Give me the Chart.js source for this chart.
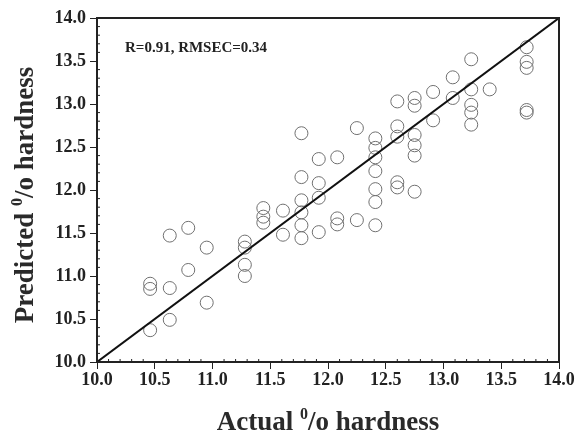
<!DOCTYPE html>
<html>
<head>
<meta charset="utf-8">
<script src="https://cdn.jsdelivr.net/npm/chart.js@4"></script>
<style>
  html, body { margin: 0; padding: 0; background: #fff; }
  #wrap { width: 578px; height: 435px; }
</style>
</head>
<body>
<div id="wrap"><canvas id="c" width="578" height="435"></canvas></div>
<script>
// Actual vs. predicted hardness (calibration set)
const actual = [
  10.46, 10.46, 10.46,
  10.63, 10.63, 10.63,
  10.79, 10.79,
  10.95, 10.95,
  11.28, 11.28, 11.28, 11.28,
  11.44, 11.44, 11.44,
  11.61, 11.61,
  11.77, 11.77, 11.77, 11.77, 11.77, 11.77,
  11.92, 11.92, 11.92, 11.92,
  12.08, 12.08, 12.08,
  12.25, 12.25,
  12.41, 12.41, 12.41, 12.41, 12.41, 12.41, 12.41,
  12.60, 12.60, 12.60, 12.60, 12.60,
  12.75, 12.75, 12.75, 12.75, 12.75, 12.75,
  12.91, 12.91,
  13.08, 13.08,
  13.24, 13.24, 13.24, 13.24, 13.24,
  13.40,
  13.72, 13.72, 13.72, 13.72, 13.72
];
const predicted = [
  10.91, 10.85, 10.37,
  11.47, 10.86, 10.49,
  11.56, 11.07,
  11.33, 10.69,
  11.40, 11.33, 11.13, 11.00,
  11.79, 11.69, 11.62,
  11.76, 11.48,
  12.66, 12.15, 11.88, 11.74, 11.59, 11.44,
  12.36, 12.08, 11.91, 11.51,
  12.38, 11.67, 11.60,
  12.72, 11.65,
  12.60, 12.49, 12.38, 12.22, 12.01, 11.86, 11.59,
  13.03, 12.74, 12.62, 12.09, 12.03,
  13.07, 12.98, 12.64, 12.52, 12.40, 11.98,
  13.14, 12.81,
  13.31, 13.07,
  13.52, 13.17, 12.99, 12.90, 12.76,
  13.17,
  13.66, 13.49, 13.42, 12.93, 12.90
];
// y = x reference line
const idealLine = [10.0, 14.0];
const xTicks = [10.0, 10.5, 11.0, 11.5, 12.0, 12.5, 13.0, 13.5, 14.0];
const yTicks = [10.0, 10.5, 11.0, 11.5, 12.0, 12.5, 13.0, 13.5, 14.0];
const statsLabel = 'R=0.91, RMSEC=0.34';
const xTitleParts = ['Actual ', '0', '/o hardness'];
const yTitleParts = ['Predicted ', '0', '/o hardness'];

const serif = '"Liberation Serif", "Times New Roman", serif';
const ink = '#222';

const scatterPoints = actual.map((a, i) => ({ x: a, y: predicted[i] }));
const linePoints = idealLine.map(v => ({ x: v, y: v }));

// Draws a title made of [before, superscript, after] pieces
function drawSupTitle(ctx, parts, cx, cy, size) {
  const big = 'bold ' + size + 'px ' + serif;
  const small = 'bold ' + Math.round(size * 0.6) + 'px ' + serif;
  ctx.font = big;
  const w0 = ctx.measureText(parts[0]).width;
  const w2 = ctx.measureText(parts[2]).width;
  ctx.font = small;
  const w1 = ctx.measureText(parts[1]).width;
  const total = w0 + w1 + w2;
  let x = cx - total / 2;
  ctx.textBaseline = 'alphabetic';
  ctx.textAlign = 'left';
  ctx.font = big;
  ctx.fillText(parts[0], x, cy);
  x += w0;
  ctx.font = small;
  ctx.fillText(parts[1], x, cy - size * 0.42);
  x += w1;
  ctx.font = big;
  ctx.fillText(parts[2], x, cy);
}

const framePlugin = {
  id: 'frame',
  afterDatasetsDraw(chart) {
    const { ctx, chartArea: a, scales } = chart;
    ctx.save();
    // frame
    ctx.strokeStyle = ink;
    ctx.lineWidth = 2;
    ctx.strokeRect(a.left, a.top, a.right - a.left, a.bottom - a.top);
    // minor ticks (every 0.1) pointing inwards
    ctx.lineWidth = 1;
    ctx.beginPath();
    for (let k = 0; k <= 40; k++) {
      if (k % 5 === 0) continue;
      const v = 10 + k * 0.1;
      const px = scales.x.getPixelForValue(v);
      ctx.moveTo(px, a.bottom); ctx.lineTo(px, a.bottom - 3);
      const py = scales.y.getPixelForValue(v);
      ctx.moveTo(a.left, py); ctx.lineTo(a.left + 3, py);
    }
    ctx.stroke();
    // statistics label
    ctx.fillStyle = ink;
    ctx.font = 'bold 15px ' + serif;
    ctx.textAlign = 'left';
    ctx.textBaseline = 'middle';
    ctx.fillText(statsLabel, 125, 48);
    // axis titles
    ctx.fillStyle = '#2a2a2a';
    drawSupTitle(ctx, xTitleParts, (a.left + a.right) / 2, 430, 27);
    ctx.translate(33, 195);
    ctx.rotate(-Math.PI / 2);
    drawSupTitle(ctx, yTitleParts, 0, 0, 27);
    ctx.restore();
  }
};

new Chart(document.getElementById('c'), {
  type: 'scatter',
  data: {
    datasets: [
      {
        data: scatterPoints,
        pointStyle: 'circle',
        pointRadius: 6.5,
        pointHoverRadius: 6.5,
        borderColor: '#707070',
        backgroundColor: 'rgba(0,0,0,0)',
        borderWidth: 1,
        order: 2
      },
      {
        type: 'line',
        data: linePoints,
        borderColor: '#111',
        borderWidth: 2,
        pointRadius: 0,
        fill: false,
        order: 1
      }
    ]
  },
  options: {
    responsive: false,
    animation: false,
    events: [],
    layout: { padding: { left: 0, top: 18, right: 19, bottom: 0 } },
    plugins: { legend: { display: false }, tooltip: { enabled: false } },
    scales: {
      x: {
        type: 'linear',
        min: 10, max: 14,
        afterFit(s) { s.height = 73; },
        afterBuildTicks(s) { s.ticks = xTicks.map(v => ({ value: v })); },
        grid: { display: true, drawOnChartArea: false, drawTicks: true, tickLength: 7, tickColor: ink, color: ink },
        border: { display: true, color: ink, width: 2 },
        ticks: {
          color: ink,
          font: { family: serif, size: 18, weight: 'bold' },
          padding: 1,
          maxRotation: 0,
          callback: v => v.toFixed(1)
        }
      },
      y: {
        type: 'linear',
        min: 10, max: 14,
        afterFit(s) { s.width = 97; },
        afterBuildTicks(s) { s.ticks = yTicks.map(v => ({ value: v })); },
        grid: { display: true, drawOnChartArea: false, drawTicks: true, tickLength: 7, tickColor: ink, color: ink },
        border: { display: true, color: ink, width: 2 },
        ticks: {
          color: ink,
          font: { family: serif, size: 18, weight: 'bold' },
          padding: 4,
          callback: v => v.toFixed(1)
        }
      }
    }
  },
  plugins: [framePlugin]
});
</script>
</body>
</html>
